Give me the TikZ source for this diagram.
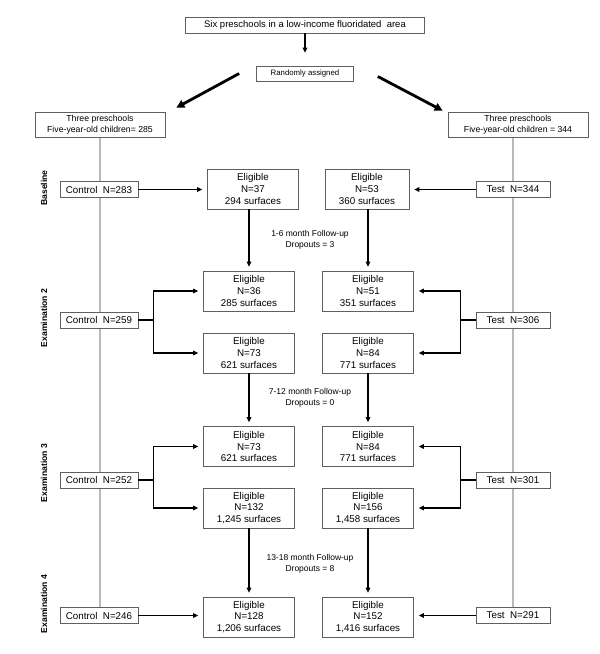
\documentclass[tikz,border=0pt]{standalone}
\usepackage{fontspec}
\setmainfont{Liberation Sans}
\usepackage{xcolor}
\usetikzlibrary{arrows.meta,backgrounds}
\definecolor{boxline}{RGB}{95,95,95}
\definecolor{trunk}{RGB}{185,185,185}

\begin{document}
\begin{tikzpicture}[x=1pt,y=-1pt,
    box/.style={draw=boxline,line width=0.7pt,fill=white,inner sep=0pt,align=center},
    elig/.style={box,minimum width=91pt,minimum height=40pt,font=\fontsize{9.8}{11.7}\selectfont},
    ctl/.style={box,minimum width=78pt,minimum height=16pt,font=\fontsize{9.8}{11.7}\selectfont},
    tst/.style={ctl,minimum width=74pt},
    group/.style={box,minimum height=25pt,font=\fontsize{8.7}{11}\selectfont},
    phase/.style={rotate=90,font=\fontsize{8.6}{10}\selectfont\bfseries},
    followup/.style={align=center,font=\fontsize{8.5}{11}\selectfont},
    arr/.style={line width=1.3pt,-{Triangle[length=5pt,width=4.5pt]},shorten >=5pt},
    bigarr/.style={line width=2.8pt,-{Triangle[length=8pt,width=8pt]}},
    trunkline/.style={draw=trunk,line width=1.4pt}]
      \useasboundingbox (0,0) rectangle (600,654);

      \node[box,minimum width=239pt,minimum height=16pt,font=\fontsize{9.5}{11}\selectfont] (top) at (305,25) {Six preschools in a low-income fluoridated\ \ area};
      \node[box,minimum width=97pt,minimum height=15pt,font=\fontsize{7.8}{9}\selectfont] (rand) at (305,73.5) {Randomly assigned};
      \draw[arr,shorten >=13pt] (top) -- (rand);

      \node[group,minimum width=130pt] (grpL) at (100,124.5) {Three preschools\\Five-year-old children= 285};
      \node[group,minimum width=140pt] (grpR) at (518,124.5) {Three preschools\\Five-year-old children = 344};
      \coordinate (dL1) at ([xshift=-17pt]rand.west);
      \coordinate (dL2) at ([xshift=11pt,yshift=4pt]grpL.north east);
      \coordinate (dR1) at ([xshift=24pt,yshift=-3pt]rand.east);
      \coordinate (dR2) at ([xshift=-5pt,yshift=1pt]grpR.north west);
      \draw[bigarr] (dL1) -- (dL2);
      \draw[bigarr] (dR1) -- (dR2);

      \node[phase] (phA) at (44,188) {Baseline};
      \node[phase] (phB) at (44,318) {Examination 2};
      \node[phase] (phC) at (44,473) {Examination 3};
      \node[phase] (phD) at (44,604) {Examination 4};

      \node[ctl] (cA) at (99,189.5) {Control\ \ N=283};
      \node[ctl] (cB) at (99,320) {Control\ \ N=259};
      \node[ctl] (cC) at (99,480) {Control\ \ N=252};
      \node[ctl] (cD) at (99,615.5) {Control\ \ N=246};
      \node[tst] (tA) at (513,189.5) {Test\ \ N=344};
      \node[tst] (tB) at (513,320) {Test\ \ N=306};
      \node[tst] (tC) at (513,480) {Test\ \ N=301};
      \node[tst] (tD) at (513,615.5) {Test\ \ N=291};

      \node[elig] (eLA) at (253,189) {Eligible\\N=37\\294 surfaces};
      \node[elig,minimum width=84pt] (eRA) at (367,189) {Eligible\\N=53\\360 surfaces};
      \node[elig] (eLB1) at (249,291) {Eligible\\N=36\\285 surfaces};
      \node[elig] (eRB1) at (368,291) {Eligible\\N=51\\351 surfaces};
      \node[elig] (eLB2) at (249,353) {Eligible\\N=73\\621 surfaces};
      \node[elig] (eRB2) at (368,353) {Eligible\\N=84\\771 surfaces};
      \node[elig] (eLC1) at (249,446.5) {Eligible\\N=73\\621 surfaces};
      \node[elig] (eRC1) at (368,446.5) {Eligible\\N=84\\771 surfaces};
      \node[elig] (eLC2) at (249,508) {Eligible\\N=132\\1,245 surfaces};
      \node[elig] (eRC2) at (368,508) {Eligible\\N=156\\1,458 surfaces};
      \node[elig] (eLD) at (249,617) {Eligible\\N=128\\1,206 surfaces};
      \node[elig] (eRD) at (368,617) {Eligible\\N=152\\1,416 surfaces};

      \node[followup] (fuA) at (310,240) {1-6 month Follow-up\\Dropouts = 3};
      \node[followup] (fuB) at (310,398) {7-12 month Follow-up\\Dropouts = 0};
      \node[followup] (fuC) at (310,563.5) {13-18 month Follow-up\\Dropouts = 8};

      \begin{pgfonlayer}{background}
        \draw[trunkline] (grpL.south) -- (grpL.south |- cD.north);
        \draw[trunkline] (tA.north |- grpR.south) -- (tA.north |- tD.north);
      \end{pgfonlayer}

      \draw[arr] (cA.east) -- (cA.east -| eLA.west);
      \draw[arr] (tA.west) -- (tA.west -| eRA.east);
      \draw[arr,shorten >=4pt] (eLA.south -| eLB1.north) -- (eLB1.north);
      \draw[arr,shorten >=4pt] (eRA.south -| eRB1.north) -- (eRB1.north);

      \draw[arr] (cB.east) -- ++(15,0) |- (eLB1.west);
      \draw[arr] (cB.east) -- ++(15,0) |- (eLB2.west);
      \draw[arr] (tB.west) -- ++(-15,0) |- (eRB1.east);
      \draw[arr] (tB.west) -- ++(-15,0) |- (eRB2.east);
      \draw[arr,shorten >=4pt] (eLB2) -- (eLC1);
      \draw[arr,shorten >=4pt] (eRB2) -- (eRC1);

      \draw[arr] (cC.east) -- ++(15,0) |- (eLC1.west);
      \draw[arr] (cC.east) -- ++(15,0) |- (eLC2.west);
      \draw[arr] (tC.west) -- ++(-15,0) |- (eRC1.east);
      \draw[arr] (tC.west) -- ++(-15,0) |- (eRC2.east);
      \draw[arr,shorten >=4pt] (eLC2) -- (eLD);
      \draw[arr,shorten >=4pt] (eRC2) -- (eRD);

      \draw[arr] (cD.east) -- (cD.east -| eLD.west);
      \draw[arr] (tD.west) -- (tD.west -| eRD.east);
    \end{tikzpicture}
\end{document}
